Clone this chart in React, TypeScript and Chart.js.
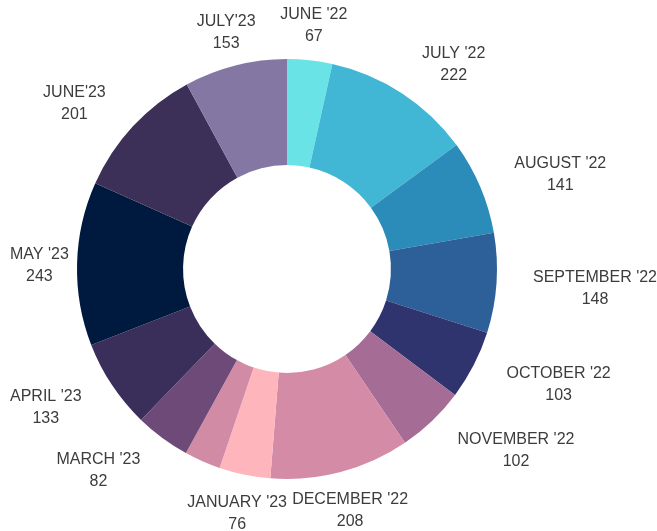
import React, { useEffect, useRef } from "react";
import { Chart, registerables } from "chart.js";

Chart.register(...registerables);

const months = [
  "JUNE '22", "JULY '22", "AUGUST '22", "SEPTEMBER '22", "OCTOBER '22", "NOVEMBER '22",
  "DECEMBER '22", "JANUARY '23", "FEBRUARY '23", "MARCH '23", "APRIL '23", "MAY '23",
  "JUNE'23", "JULY'23",
];
const counts = [67, 222, 141, 148, 103, 102, 208, 76, 54, 82, 133, 243, 201, 153];
const sliceColors = [
  "#6AE3E7", "#42B7D5", "#2B8CBA", "#2D5F98", "#30346E", "#A56C95",
  "#D48CA6", "#FFB5BC", "#D18BA5", "#6E4A78", "#3A2F5A", "#001A3F",
  "#3D3058", "#8577A4",
];
const hiddenLabels = ["FEBRUARY '23"];

const labelPlugin = {
  id: "outsideLabels",
  afterDatasetsDraw(chart: any) {
    const ctx = chart.ctx;
    const meta = chart.getDatasetMeta(0);
    const W = chart.width;
    ctx.save();
    ctx.font = "16px 'Liberation Sans', Arial, sans-serif";
    ctx.fillStyle = "#3c3c3c";
    ctx.textAlign = "center";
    ctx.textBaseline = "middle";
    const lineH = 22;
    meta.data.forEach((arc: any, i: number) => {
      const name = chart.data.labels[i];
      if (hiddenLabels.includes(name)) return;
      const val = String(chart.data.datasets[0].data[i]);
      const mid = (arc.startAngle + arc.endAngle) / 2;
      const dx = Math.cos(mid);
      const dy = Math.sin(mid);
      const w = Math.max(ctx.measureText(name).width, ctx.measureText(val).width);
      const d = arc.outerRadius + 37;
      const ax = arc.x + dx * d;
      const ay = arc.y + dy * d + 2.5;
      let cx = ax;
      if (dx > 0.4) cx = ax + w / 2;
      else if (dx < -0.4) cx = ax - w / 2;
      if (cx - w / 2 < 10) cx = 10 + w / 2;
      if (cx + w / 2 > W) cx = W - w / 2;
      ctx.fillText(name, cx, ay - lineH / 2);
      ctx.fillText(val, cx, ay + lineH / 2);
    });
    ctx.restore();
  },
};

export default function App() {
  const ref = useRef<HTMLCanvasElement>(null);
  useEffect(() => {
    document.body.style.margin = "0";
    const chart = new Chart(ref.current!, {
      type: "doughnut",
      data: {
        labels: months,
        datasets: [
          {
            data: counts,
            backgroundColor: sliceColors,
            borderWidth: 0,
          },
        ],
      },
      options: {
        responsive: false,
        animation: false,
        cutout: "49.5%",
        layout: { padding: { left: 77, top: 59, right: 160, bottom: 52 } },
        plugins: {
          legend: { display: false },
          tooltip: { enabled: false },
        },
      },
      plugins: [labelPlugin],
    });
    return () => chart.destroy();
  }, []);
  return (
    <div style={{ width: 657, height: 531, background: "#fff" }}>
      <canvas ref={ref} width={657} height={531} />
    </div>
  );
}
